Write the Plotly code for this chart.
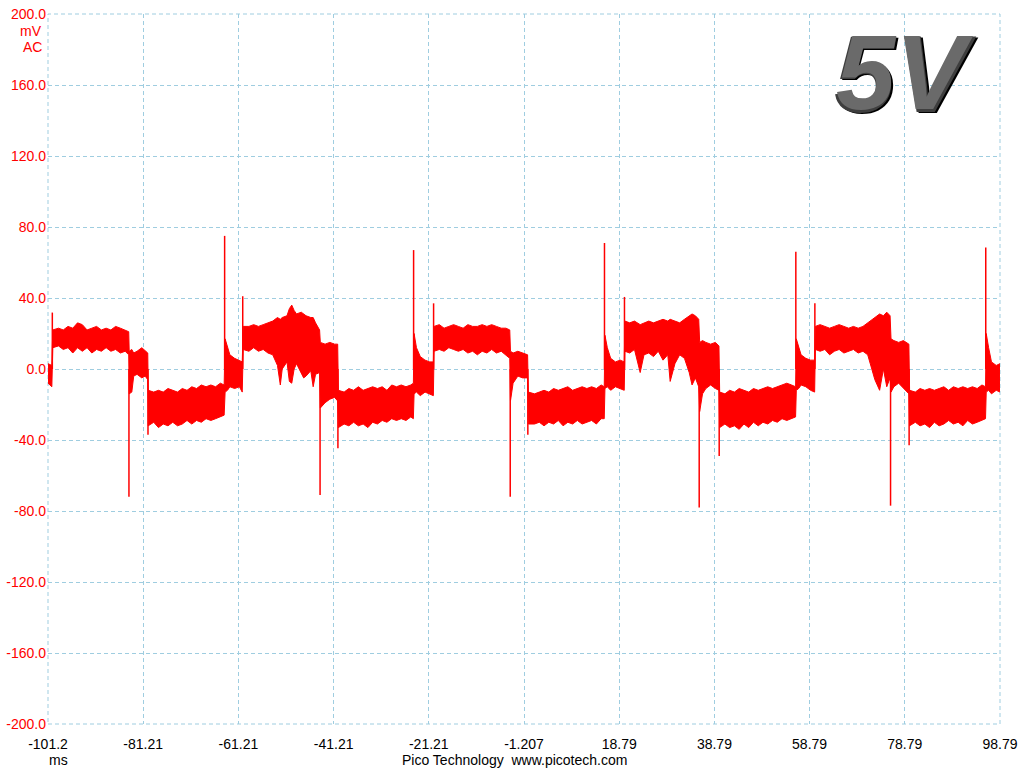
import plotly.graph_objects as go

# ---- data (time in ms, voltage in mV) ----
t_ms = [
    -101.2, -100.4,
    -100.2, -99, -98, -97, -96, -95, -94, -93, -92, -91, -90, -89, -88, -87, -86, -85, -84.25,
    -84.15, -83.6, -83.2, -82.5, -81.5, -80.8, -80.25,
    -80.15, -79, -78, -77, -76, -75, -74, -73, -72, -71, -70, -69, -68, -67, -66, -65, -64.2,
    -64.0, -63.5, -63, -62, -61, -60.4,
    -60.2, -59, -58, -57, -56, -55, -54, -53, -52.4, -52, -51, -50.5, -50, -49.5, -49, -48, -47.5, -47, -46, -45.5, -45, -44.15,
    -44.0, -43, -42, -41, -40.35,
    -40.2, -39, -38, -37, -36, -35, -34, -33, -32, -31, -30, -29, -28, -27, -26, -25, -24.45,
    -24.3, -23.8, -23, -22, -21, -20.25,
    -20.1, -19, -18, -17, -16, -15, -14, -13, -12, -11, -10, -9, -8, -7, -6, -5, -4.2,
    -4.05, -3.5, -2.5, -1.5, -0.45,
    -0.3, 1, 2, 3, 4, 5, 6, 7, 8, 9, 10, 11, 12, 13, 14, 15, 15.65,
    15.8, 16.3, 17, 18, 19, 19.85,
    20.0, 21, 22, 23.2, 24, 25, 26, 27, 28, 29, 29.5, 30.5, 31.5, 32.5, 33.5, 34.1, 34.8, 35.5,
    35.7, 36.3, 37, 38, 39, 39.75,
    39.9, 41, 42, 43, 44, 45, 46, 47, 48, 49, 50, 51, 52, 53, 54, 55, 55.85,
    56.0, 56.5, 57, 58, 59, 59.85,
    60.0, 61, 62, 63, 64, 65, 66, 67, 68, 69, 70, 71, 71.8, 72.5, 73.5, 74.3, 75, 75.7,
    75.9, 76.5, 77.5, 78.5, 79.65,
    79.8, 81, 82, 83, 84, 85, 86, 87, 88, 89, 90, 91, 92, 93, 94, 95, 95.75,
    95.9, 96.4, 97, 98, 98.79,
]
upper_mv = [
    3, 2,
    22, 23, 22, 24, 23, 26, 25, 22, 23, 24, 22, 23, 22, 24, 23, 22, 21,
    10, 11, 9, 10, 12, 10, 9,
    -12, -13, -12, -13, -11, -12, -13, -11, -12, -10, -11, -9, -10, -9, -10, -8, -9,
    17, 12, 8, 6, 5, 4,
    24, 24, 25, 24, 25, 26, 27, 29, 28, 29, 30, 34, 36, 33, 31, 32, 31, 30, 29, 29, 26, 22,
    15, 14, 15, 14, 14,
    -12, -13, -11, -12, -10, -12, -11, -10, -11, -10, -12, -9, -10, -9, -10, -9, -8,
    20, 12, 7, 5, 4, 4,
    24, 25, 23, 24, 25, 24, 23, 25, 24, 24, 25, 24, 25, 24, 23, 23, 22,
    10, 9, 10, 9, 8,
    -13, -14, -13, -12, -13, -11, -12, -11, -10, -12, -11, -10, -11, -10, -11, -9, -10,
    19, 12, 6, 4, 5, 4,
    27, 26, 27, 25, 26, 27, 26, 27, 28, 27, 28, 27, 26, 28, 30, 31, 30, 28,
    15, 16, 15, 14, 15, 13,
    -13, -14, -12, -13, -11, -12, -13, -11, -12, -11, -10, -11, -10, -9, -8, -9, -10,
    17, 12, 8, 6, 5, 5,
    24, 25, 24, 23, 24, 25, 24, 23, 24, 23, 24, 26, 28, 29, 31, 30, 32, 30,
    17, 16, 15, 16, 14,
    -12, -13, -11, -12, -11, -12, -11, -10, -12, -10, -11, -10, -11, -10, -11, -9, -10,
    20, 12, 4, 2, 3,
]
lower_mv = [
    -8, -10,
    12, 13, 11, 12, 9, 12, 10, 12, 9, 11, 10, 12, 10, 11, 9, 10, 8,
    -14, -13, -4, -3, -5, -4, -6,
    -32, -30, -33, -31, -32, -30, -32, -31, -29, -31, -29, -30, -28, -29, -28, -27, -26,
    -13, -12, -10, -11, -10, -13,
    11, 10, 12, 10, 11, 9, 8, 2, -9, 0, 4, -7, -8, 0, 3, -2, -5, -4, -1, -10, -3, -2,
    -22, -19, -17, -16, -18,
    -33, -31, -32, -30, -32, -31, -33, -30, -31, -29, -30, -28, -29, -28, -29, -27, -28,
    -14, -13, -15, -13, -14, -15,
    10, 11, 10, 12, 11, 10, 11, 9, 10, 8, 10, 9, 11, 9, 10, 8, 6,
    -18, -8, -4, -5, -5,
    -31, -31, -30, -32, -30, -31, -29, -32, -30, -31, -29, -31, -30, -29, -31, -28, -28,
    -11, -10, -12, -10, -11, -12,
    10, 9, 11, -2, 8, 9, 7, 10, 5, 8, -7, 3, 8, 6, -2, -9, -5, -10,
    -24, -14, -11, -9, -11, -12,
    -33, -31, -33, -32, -34, -31, -33, -30, -32, -30, -31, -29, -30, -28, -29, -28, -27,
    -12, -11, -9, -10, -12, -13,
    11, 10, 11, 8, 10, 11, 9, 10, 11, 9, 10, 8, 0, -6, -12, 0, -10, -5,
    -13, -10, -8, -11, -14,
    -32, -30, -32, -31, -33, -30, -32, -31, -29, -31, -30, -32, -29, -31, -30, -29, -28,
    -13, -12, -14, -12, -13,
]

spike_t_ms = [-100.3, -84.2, -80.2, -64.1, -60.3, -44.05, -40.3, -24.4, -20.2, -4.1,
              -0.4, 15.7, 19.9, 35.6, 39.8, 55.9, 59.9, 75.8, 79.7, 95.8]
spike_mv = [31.8, -72, -37, 75, 41, -71, -44.6, 67, 37, -72,
            -37, 71, 40.6, -78, -49, 66, 37, -77, -43, 68.5]

x_tick_vals = [-101.207, -81.207, -61.207, -41.207, -21.207, -1.207,
               18.793, 38.793, 58.793, 78.793, 98.793]
x_tick_text = ["-101.2", "-81.21", "-61.21", "-41.21", "-21.21", "-1.207",
               "18.79", "38.79", "58.79", "78.79", "98.79"]
y_tick_vals = [-200, -160, -120, -80, -40, 0, 40, 80, 120, 160, 200]
y_tick_text = ["-200.0", "-160.0", "-120.0", "-80.0", "-40.0", "0.0",
               "40.0", "80.0", "120.0", "160.0", "200.0"]

RED = "#ff0000"
GRID = "#9fcde0"
FONT = "Liberation Sans, Arial, sans-serif"
FS = 14

# spikes as vertical segments from 0 mV to the spike value
sx, sy = [], []
for t, v in zip(spike_t_ms, spike_mv):
    sx += [t, t, None]
    sy += [0, v, None]

fig = go.Figure()
fig.add_trace(go.Scatter(x=t_ms, y=lower_mv, mode="lines",
                         line=dict(color=RED, width=1), hoverinfo="skip"))
fig.add_trace(go.Scatter(x=t_ms, y=upper_mv, mode="lines", fill="tonexty",
                         fillcolor=RED, line=dict(color=RED, width=1), hoverinfo="skip"))
fig.add_trace(go.Scatter(x=sx, y=sy, mode="lines",
                         line=dict(color=RED, width=1.5), hoverinfo="skip"))

fig.update_layout(
    width=1024, height=768,
    margin=dict(l=45, r=23, t=6, b=44),
    paper_bgcolor="white", plot_bgcolor="white",
    showlegend=False,
    font=dict(family=FONT, size=FS, color="black"),
    xaxis=dict(range=[-101.207, 98.793], tickmode="array",
               tickvals=x_tick_vals, ticktext=x_tick_text,
               showgrid=True, gridcolor=GRID, griddash="4px,3px", gridwidth=1,
               zeroline=False, showline=False, ticks="",
               ticklabelstandoff=10, ticklabeloverflow="allow",
               tickfont=dict(family=FONT, size=FS, color="black")),
    yaxis=dict(range=[-200, 200], tickmode="array",
               tickvals=y_tick_vals, ticktext=y_tick_text,
               showgrid=True, gridcolor=GRID, griddash="4px,3px", gridwidth=1,
               zeroline=False, showline=False, ticks="",
               ticklabelstandoff=1, ticklabeloverflow="allow",
               tickfont=dict(family=FONT, size=FS, color=RED)),
    shapes=[dict(type="rect", xref="paper", yref="paper", x0=0, x1=1, y0=0, y1=1,
                 line=dict(color=GRID, width=1, dash="4px,3px"), layer="below")],
    annotations=[
        dict(text="mV", xref="paper", yref="paper", x=-0.004, y=0.976,
             xanchor="right", yanchor="middle", showarrow=False,
             font=dict(family=FONT, size=FS, color=RED)),
        dict(text="AC", xref="paper", yref="paper", x=-0.004, y=0.954,
             xanchor="right", yanchor="middle", showarrow=False,
             font=dict(family=FONT, size=FS, color=RED)),
        dict(text="ms", xref="paper", yref="paper", x=0.011, y=-0.050,
             xanchor="center", yanchor="middle", showarrow=False,
             font=dict(family=FONT, size=FS, color="black")),
        dict(text="Pico Technology\u00a0 www.picotech.com", xref="paper", yref="paper",
             x=0.49, y=-0.050, xanchor="center", yanchor="middle", showarrow=False,
             font=dict(family=FONT, size=FS, color="black")),
        dict(text="<b><i>5V</i></b>", xref="paper", yref="paper", x=0.903, y=0.915,
             xanchor="center", yanchor="middle", showarrow=False,
             font=dict(family=FONT, size=110, color="#000000")),
        dict(text="<b><i>5V</i></b>", xref="paper", yref="paper", x=0.903, y=0.915,
             xanchor="center", yanchor="middle", showarrow=False, xshift=-2, yshift=1,
             font=dict(family=FONT, size=110, color="#3e3e3e")),
        dict(text="<b><i>5V</i></b>", xref="paper", yref="paper", x=0.903, y=0.915,
             xanchor="center", yanchor="middle", showarrow=False, xshift=-3, yshift=2,
             font=dict(family=FONT, size=106, color="#6a6a6a")),
    ],
)

fig.write_html("out.html", config={"displayModeBar": False},
               post_script="document.body.style.margin='0';document.body.style.overflow='hidden';")
